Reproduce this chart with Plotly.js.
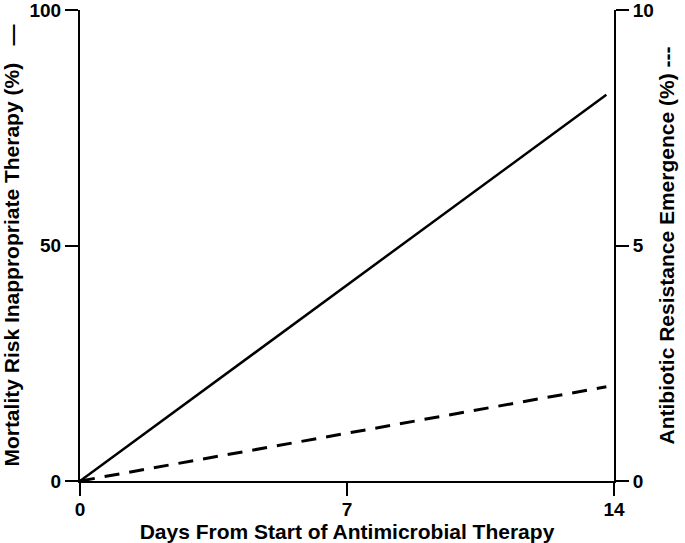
<!DOCTYPE html>
<html>
<head>
<meta charset="utf-8">
<script src="https://cdn.plot.ly/plotly-3.0.1.min.js"></script>
<style>
  html, body { margin: 0; padding: 0; background: #fff; }
  #chart { width: 685px; height: 543px; }
</style>
</head>
<body>
<div id="chart"></div>
<script>
// values
const days = [0, 13.8];
const mortality = [0, 82];        // left axis, %
const resistance = [0, 2.0];      // right axis, %

const xTicks = [0, 7, 14];
const yTicks = [0, 50, 100];
const y2Ticks = [0, 5, 10];

const font = "Liberation Sans, Arial, sans-serif";
const titleFont = { family: font, size: 21, color: "#000" };
const bold = v => v.map(t => "<b>" + t + "</b>");

const traces = [
  {
    type: "scatter", mode: "lines",
    x: days, y: mortality,
    line: { color: "#000", width: 2.5 },
    yaxis: "y", showlegend: false, hoverinfo: "skip"
  },
  {
    type: "scatter", mode: "lines",
    x: days, y: resistance,
    line: { color: "#000", width: 3, dash: "15px,10px" },
    yaxis: "y2", showlegend: false, hoverinfo: "skip"
  }
];

const axisBase = {
  showgrid: false, zeroline: false, showline: true,
  linecolor: "#000", linewidth: 2,
  ticks: "outside", ticklen: 13, tickwidth: 2, tickcolor: "#000",
  tickfont: { family: font, size: 19, color: "#000" },
  ticklabeloverflow: "allow",
  fixedrange: true
};

const layout = {
  width: 685, height: 543,
  margin: { l: 80, r: 71, t: 10, b: 62 },
  paper_bgcolor: "#fff", plot_bgcolor: "#fff",
  font: { family: font, color: "#000" },
  xaxis: Object.assign({}, axisBase, {
    range: [0, 14], tickvals: xTicks, ticktext: bold(xTicks),
    ticklabelstandoff: -3,
    title: { text: "<b>Days From Start of Antimicrobial Therapy</b>", font: titleFont, standoff: 2 }
  }),
  yaxis: Object.assign({}, axisBase, {
    range: [0, 100], tickvals: yTicks, ticktext: bold(yTicks),
    title: { text: "<b>Mortality Risk Inappropriate Therapy (%)   —</b>", font: titleFont, standoff: 8 }
  }),
  yaxis2: Object.assign({}, axisBase, {
    range: [0, 10], tickvals: y2Ticks, ticktext: bold(y2Ticks),
    overlaying: "y", side: "right",
    title: { text: "<b>Antibiotic Resistance Emergence (%) ---</b>", font: titleFont, standoff: 6 }
  })
};

Plotly.newPlot("chart", traces, layout, { staticPlot: true, displayModeBar: false });
</script>
</body>
</html>
